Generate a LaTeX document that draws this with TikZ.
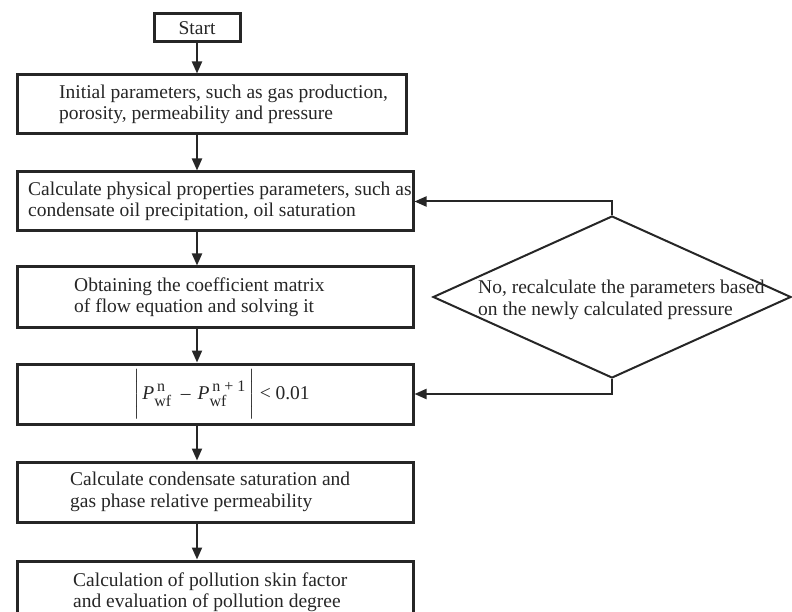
\documentclass[tikz,border=0pt]{standalone}
\usepackage{fontspec}
\usepackage{amsmath}
\setmainfont{Liberation Serif}
\DeclareMathSizes{19.5}{19.5}{16}{13}
\usetikzlibrary{arrows.meta,shapes.geometric}
\tikzset{
  box/.style={draw=black!85,line width=3pt,inner sep=0pt,rectangle},
  txt/.style={anchor=west,align=left,inner sep=0pt,text=black!85,font=\fontsize{19.5}{21.5}\selectfont},
  arr/.style={line width=2pt,draw=black!85,-{Triangle[length=12pt,width=10pt]}},
  dia/.style={diamond,draw=black!85,line width=2pt,inner sep=0pt,minimum width=358pt,minimum height=162pt},
}
\begin{document}
\begin{tikzpicture}[x=1pt,y=-1pt]
\useasboundingbox (0,0) rectangle (792,612);
\clip (0,0) rectangle (792,612);
% boxes
\node[box,minimum width=86pt,minimum height=28pt] (b0) at (197,28) {};
\node[font=\fontsize{19.5}{21.5}\selectfont,text=black!85,inner sep=0pt] (t0) at (b0) {Start};
\node[box,minimum width=389pt,minimum height=59pt] (b1) at (211.5,104.5) {};
\node[txt] (t1) at (59,104.5) {Initial parameters, such as gas production,\\porosity, permeability and pressure};
\node[box,minimum width=396pt,minimum height=59pt] (b2) at (215,201.5) {};
\node[txt] (t2) at (28,201.5) {Calculate physical properties parameters, such as\\condensate oil precipitation, oil saturation};
\node[box,minimum width=396pt,minimum height=60pt] (b3) at (215,297) {};
\node[txt] (t3) at (74,297) {Obtaining the coefficient matrix\\of flow equation and solving it};
\node[box,minimum width=396pt,minimum height=60pt] (b4) at (215,394) {};
\node[inner sep=0pt,text=black!85,font=\fontsize{19.5}{21.5}\selectfont] (t4) at (221.5,394)
  {$\bigg|\mskip2mu\textit{P}^{\,\text{n}}_{\text{wf}}\mskip8mu\text{–}\mskip6mu\textit{P}^{\,\text{n + 1}}_{\text{wf}}\mskip2mu\bigg|\mskip4mu\text{< 0.01}$};
\node[box,minimum width=396pt,minimum height=60pt] (b5) at (215,492) {};
\node[txt] (t5) at (70,492) {Calculate condensate saturation and\\gas phase relative permeability};
\node[box,minimum width=396pt,minimum height=80pt] (b6) at (215,601) {};
\node[txt] (t6) at (73,592) {Calculation of pollution skin factor\\and evaluation of pollution degree};
% diamond
\node[dia] (d) at (612,297) {};
\node[txt] (td) at (478,300) {No, recalculate the parameters based\\on the newly calculated pressure};
% connectors
\draw[arr] (b0.south) -- (b1.north -| b0.south);
\draw[arr] (b1.south -| b0.south) -- (b2.north -| b0.south);
\draw[arr] (b2.south -| b0.south) -- (b3.north -| b0.south);
\draw[arr] (b3.south -| b0.south) -- (b4.north -| b0.south);
\draw[arr] (b4.south -| b0.south) -- (b5.north -| b0.south);
\draw[arr] (b5.south -| b0.south) -- (b6.north -| b0.south);
\draw[arr] (d.north) |- (b2.east);
\draw[arr] (d.south) |- (b4.east);
\end{tikzpicture}
\end{document}
